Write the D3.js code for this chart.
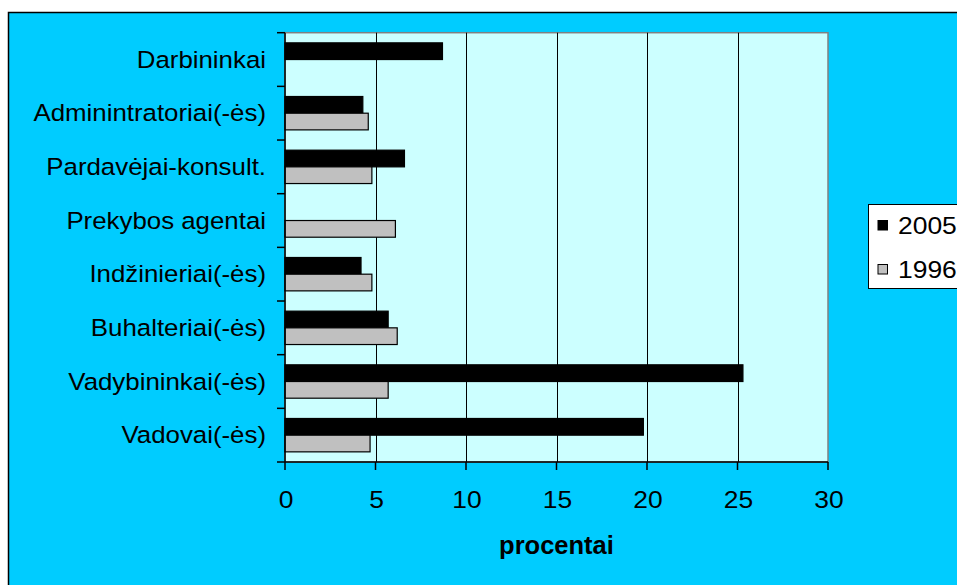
<!DOCTYPE html>
<html>
<head>
<meta charset="utf-8">
<script src="https://cdn.jsdelivr.net/npm/d3@7"></script>
<style>
  html, body { margin: 0; padding: 0; background: #ffffff; }
  svg { display: block; }
  text { font-family: "Liberation Sans", Arial, sans-serif; fill: #000; }
</style>
</head>
<body>
<svg id="chart" width="957" height="585"></svg>
<script>
// Occupations, listed top to bottom
const categories = [
  "Darbininkai",
  "Adminintratoriai(-ės)",
  "Pardavėjai-konsult.",
  "Prekybos agentai",
  "Indžinieriai(-ės)",
  "Buhalteriai(-ės)",
  "Vadybininkai(-ės)",
  "Vadovai(-ės)"
];
// Share of job ads, percent (0 = not listed that year)
const values2005 = [8.7, 4.3, 6.6, 0, 4.2, 5.7, 25.3, 19.8];
const values1996 = [0, 4.6, 4.8, 6.1, 4.8, 6.2, 5.7, 4.7];
const seriesNames = ["2005", "1996"];
const xTicks = [0, 5, 10, 15, 20, 25, 30];
const axisTitle = "procentai";

const seriesColors = { "2005": "#000000", "1996": "#c0c0c0" };
const SX = 1.1; // horizontal text stretch

const svg = d3.select("#chart");

// chart area
svg.append("rect")
  .attr("x", 8.5).attr("y", 12.5)
  .attr("width", 1100).attr("height", 1000)
  .attr("fill", "#00ccff")
  .attr("stroke", "#000").attr("stroke-width", 1.5);

const plot = { left: 285, right: 828, top: 32.7, bottom: 462 };

const x = d3.scaleLinear().domain([0, 30]).range([plot.left, plot.right]);
const y = d3.scaleBand().domain(categories)
  .range([plot.top, plot.bottom])
  .paddingInner(0.378).paddingOuter(0.189);
const ySub = d3.scaleBand().domain(seriesNames).range([0, y.bandwidth()]);

// plot background
svg.append("rect")
  .attr("x", plot.left).attr("y", plot.top)
  .attr("width", plot.right - plot.left).attr("height", plot.bottom - plot.top)
  .attr("fill", "#ccffff")
  .attr("stroke", "#808080").attr("stroke-width", 1.5);

// vertical gridlines
svg.append("g").selectAll("line")
  .data(xTicks.filter(t => t > 0 && t < 30))
  .join("line")
  .attr("x1", d => Math.round(x(d)) + 0.5).attr("x2", d => Math.round(x(d)) + 0.5)
  .attr("y1", plot.top).attr("y2", plot.bottom)
  .attr("stroke", "#000").attr("stroke-width", 1);

// bars
const rows = categories.map((c, i) => ({ cat: c, vals: [
  { s: "2005", v: values2005[i] },
  { s: "1996", v: values1996[i] }
]}));

const groups = svg.append("g").selectAll("g")
  .data(rows).join("g")
  .attr("transform", d => `translate(0,${y(d.cat)})`);

groups.selectAll("rect")
  .data(d => d.vals.filter(e => e.v > 0))
  .join("rect")
  .attr("x", x(0))
  .attr("y", d => ySub(d.s))
  .attr("width", d => x(d.v) - x(0))
  .attr("height", ySub.bandwidth())
  .attr("fill", d => seriesColors[d.s])
  .attr("stroke", "#000").attr("stroke-width", 1.2);

// category axis
const step = y.step();
const boundaries = d3.range(categories.length + 1).map(i => plot.top + i * step);
const yAxisG = svg.append("g");
yAxisG.append("line")
  .attr("x1", plot.left).attr("x2", plot.left)
  .attr("y1", plot.top).attr("y2", plot.bottom)
  .attr("stroke", "#000").attr("stroke-width", 1.5);
yAxisG.selectAll("line.tick")
  .data(boundaries).join("line").attr("class", "tick")
  .attr("x1", plot.left - 8).attr("x2", plot.left)
  .attr("y1", d => d).attr("y2", d => d)
  .attr("stroke", "#000").attr("stroke-width", 1.5);
yAxisG.selectAll("text")
  .data(categories).join("text")
  .attr("transform", d => `translate(266,${y(d) + y.bandwidth() / 2 + 8}) scale(${SX},1)`)
  .attr("text-anchor", "end")
  .attr("font-size", "23.5px")
  .text(d => d);

// value axis
const xAxisG = svg.append("g");
xAxisG.append("line")
  .attr("x1", plot.left).attr("x2", plot.right)
  .attr("y1", plot.bottom).attr("y2", plot.bottom)
  .attr("stroke", "#000").attr("stroke-width", 1.5);
xAxisG.selectAll("line.tick")
  .data(xTicks).join("line").attr("class", "tick")
  .attr("x1", d => x(d)).attr("x2", d => x(d))
  .attr("y1", plot.bottom).attr("y2", plot.bottom + 8)
  .attr("stroke", "#000").attr("stroke-width", 1.5);
xAxisG.selectAll("text")
  .data(xTicks).join("text")
  .attr("transform", d => `translate(${x(d) + 1},507.5) scale(${SX},1)`)
  .attr("text-anchor", "middle")
  .attr("font-size", "24px")
  .text(d => d);

// axis title
svg.append("text")
  .attr("transform", `translate(${(plot.left + plot.right) / 2},554) scale(1.02,1)`)
  .attr("text-anchor", "middle")
  .attr("font-size", "25px")
  .attr("font-weight", "bold")
  .text(axisTitle);

// legend
const legend = svg.append("g");
legend.append("rect")
  .attr("x", 868.5).attr("y", 204.5)
  .attr("width", 120).attr("height", 84)
  .attr("fill", "#fff").attr("stroke", "#000").attr("stroke-width", 1);
const legendRows = [{ s: "2005", cy: 225 }, { s: "1996", cy: 269 }];
legend.selectAll("rect.sw")
  .data(legendRows).join("rect").attr("class", "sw")
  .attr("x", 878).attr("y", d => d.cy - 4.5)
  .attr("width", 9.5).attr("height", 9.5)
  .attr("fill", d => seriesColors[d.s])
  .attr("stroke", "#000").attr("stroke-width", 1);
legend.selectAll("text")
  .data(legendRows).join("text")
  .attr("transform", d => `translate(898,${d.cy + 8.5}) scale(1.15,1)`)
  .attr("font-size", "23px")
  .text(d => d.s);
</script>
</body>
</html>
